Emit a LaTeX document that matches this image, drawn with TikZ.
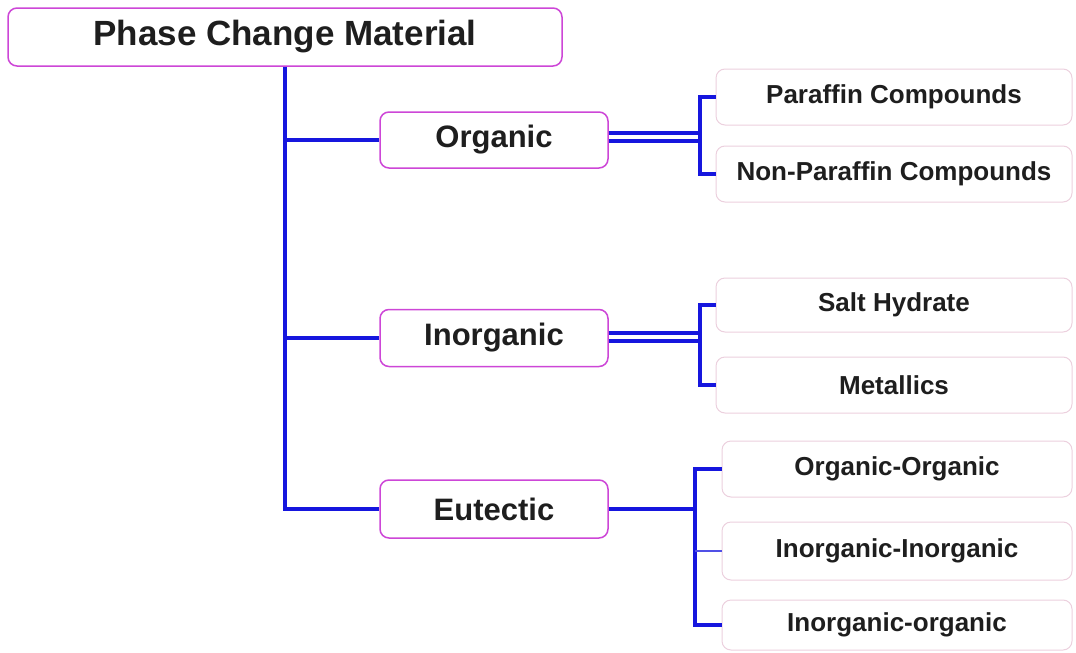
\documentclass[tikz,border=0pt]{standalone}
\usepackage{fontspec}
\setmainfont{Liberation Sans}
\definecolor{boxline}{RGB}{205,70,215}
\definecolor{subline}{RGB}{236,208,222}
\definecolor{linkblue}{RGB}{22,22,222}
\definecolor{textdark}{RGB}{30,30,30}
\begin{document}
\begin{tikzpicture}[x=1pt,y=-1pt,
  mainbox/.style={draw=boxline,line width=1.5pt,rounded corners=9pt,fill=white,text=textdark,
    font=\bfseries\fontsize{31}{36}\selectfont,minimum width=228pt,minimum height=56pt,inner sep=0pt},
  subbox/.style={draw=subline,line width=1pt,rounded corners=9pt,fill=white,text=textdark,
    font=\bfseries\fontsize{26}{30}\selectfont,minimum width=356pt,minimum height=56pt,inner sep=0pt},
  link/.style={draw=linkblue,line width=4pt},
  duallink/.style={draw=linkblue,line width=4pt,double=white,double distance=4pt}]
  \useasboundingbox (0,0) rectangle (1076,653);

  \node[mainbox,minimum width=554pt,minimum height=58pt,font=\bfseries\fontsize{35}{40}\selectfont] (pcm) at (285,37) {Phase Change Material};
  \node[mainbox] (org) at (494,140) {Organic};
  \node[mainbox,minimum height=57pt] (inorg) at (494,338) {Inorganic};
  \node[mainbox,minimum height=58pt] (eut) at (494,509) {Eutectic};

  \node[subbox] (par) at (894,97) {Paraffin Compounds};
  \node[subbox] (npar) at (894,174) {Non-Paraffin Compounds};
  \node[subbox,minimum height=54pt] (salt) at (894,305) {Salt Hydrate};
  \node[subbox] (metal) at (894,385) {Metallics};
  \node[subbox,minimum width=350pt] (oo) at (897,469) {Organic-Organic};
  \node[subbox,minimum width=350pt,minimum height=58pt] (ii) at (897,551) {Inorganic-Inorganic};
  \node[subbox,minimum width=350pt,minimum height=50pt] (io) at (897,625) {Inorganic-organic};

  \coordinate (orgj) at (700,137);
  \coordinate (inorgj) at (700,337);
  \coordinate (eutj) at (695,509);

  % main tree
  \draw[link] (pcm.south) |- (org.west);
  \draw[link] (pcm.south) |- (inorg.west);
  \draw[link,line join=miter] (pcm.south) |- (eut.west);

  % organic
  \draw[duallink] (org.east |- orgj) -- (orgj);
  \draw[link] (orgj) |- (par.west);
  \draw[link] (orgj) |- (npar.west);

  % inorganic
  \draw[duallink] (inorg.east |- inorgj) -- (inorgj);
  \draw[link] (inorgj) |- (salt.west);
  \draw[link] (inorgj) |- (metal.west);

  % eutectic
  \draw[link] (eut.east) -- (eutj);
  \draw[link] (eutj) |- (oo.west);
  \draw[link] (eutj) |- (io.west);
  \draw[draw=linkblue!75,line width=2.5pt] (eutj |- ii.west) -- (ii.west);
\end{tikzpicture}
\end{document}
